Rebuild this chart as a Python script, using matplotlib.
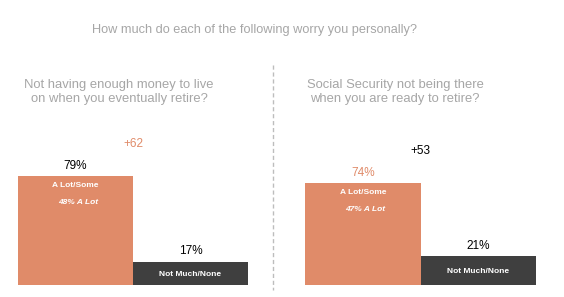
import matplotlib.pyplot as plt
from matplotlib.lines import Line2D

plt.rcParams['font.family'] = ['Liberation Sans', 'DejaVu Sans']

title = 'How much do each of the following worry you personally?'
questions = ['Not having enough money to live\non when you eventually retire?',
             'Social Security not being there\nwhen you are ready to retire?']
categories = ['A Lot/Some', 'Not Much/None']
a_lot_some = [79, 74]
not_much = [17, 21]
a_lot = [48, 47]
net = ['+62', '+53']

orange = '#e08b69'
dark = '#3f3f3f'
grey = '#a6a6a6'

W, H = 564, 297
fig = plt.figure(figsize=(W / 100, H / 100), dpi=100)

# pixel boxes (left, right) for the two panels, bottom at y=285
panels = [(18, 248), (305, 536)]
q_centers = [119, 395]
bottom_px = 285
px_per_unit = 1.38

fig.text(254 / W, 1 - 30 / H, title, ha='center', va='center',
         fontsize=9.2, color=grey)

net_colors = [orange, 'black']
pct_colors = ['black', orange]

for i, (x0, x1) in enumerate(panels):
    ax = fig.add_axes([x0 / W, 1 - bottom_px / H, (x1 - x0) / W,
                       100 * px_per_unit / H])
    ax.set_xlim(-0.5, 1.5)
    ax.set_ylim(0, 100)
    ax.axis('off')
    vals = [a_lot_some[i], not_much[i]]
    ax.bar([0, 1], vals, width=1.0, color=[orange, dark])

    ax.text(0, vals[0] + 3, '%d%%' % vals[0], ha='center', va='bottom',
            fontsize=8.5, color=pct_colors[i])
    ax.text(1, vals[1] + 3, '%d%%' % vals[1], ha='center', va='bottom',
            fontsize=8.5, color='black')
    ax.text(0, vals[0] - 7, categories[0], ha='center', va='center',
            fontsize=6, color='white', fontweight='bold')
    ax.text(0.02, vals[0] - 19.5, '%d%% A Lot' % a_lot[i], ha='center',
            va='center', fontsize=6, color='white', fontweight='bold',
            style='italic')
    ax.text(1, vals[1] / 2 - 1, categories[1], ha='center', va='center',
            fontsize=6, color='white', fontweight='bold')
    ax.text(0.5, vals[0] + 23, net[i], ha='center', va='center',
            fontsize=8.5, color=net_colors[i])

    fig.text(q_centers[i] / W, 1 - 92 / H, questions[i], ha='center',
             va='center', fontsize=9.4, color=grey, linespacing=1.25)

fig.add_artist(Line2D([273 / W, 273 / W], [1 - 65 / H, 1 - 290 / H],
                      transform=fig.transFigure, color='#bdbdbd',
                      linestyle=(0, (3, 2)), linewidth=1))

fig.savefig('out.png', dpi=100)
